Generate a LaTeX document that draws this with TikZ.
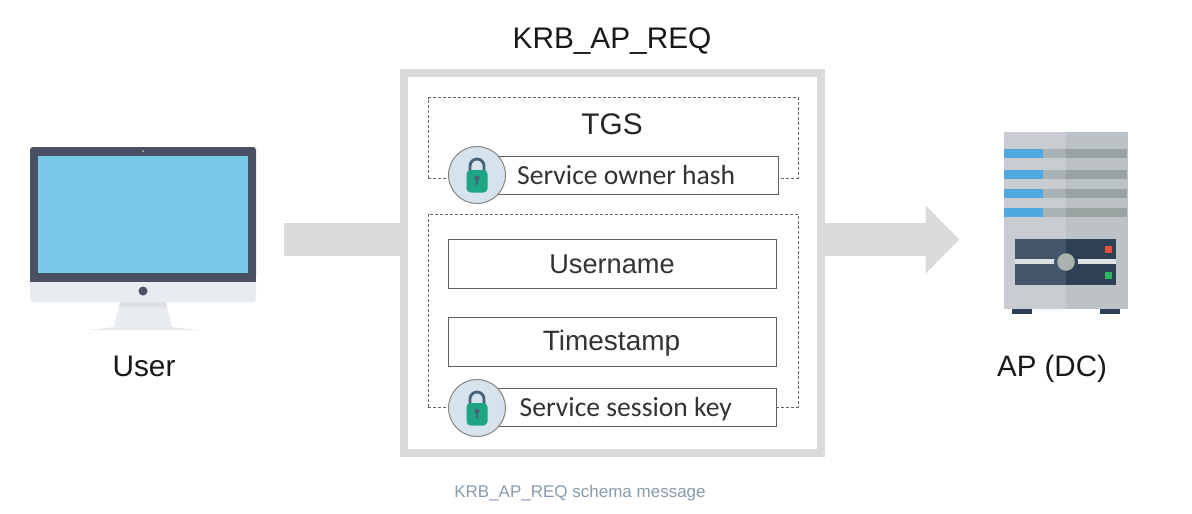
\documentclass[tikz,border=0pt]{standalone}
\usepackage{fontspec}
\setmainfont{Liberation Sans}
\newfontfamily\boxfont{Carlito}
\usetikzlibrary{arrows.meta}
\definecolor{framegray}{HTML}{DADADA}
\definecolor{bezel}{HTML}{4A5162}
\definecolor{screenblue}{HTML}{78C8EA}
\definecolor{silver}{HTML}{E8EBEF}
\definecolor{srvleft}{HTML}{C8CCD0}
\definecolor{srvright}{HTML}{BDC2C6}
\definecolor{panelleft}{HTML}{435568}
\definecolor{panelright}{HTML}{2E4053}
\definecolor{stripeblue}{HTML}{4FA9E0}
\definecolor{stripeleft}{HTML}{A9B2B2}
\definecolor{striperight}{HTML}{98A3A2}
\definecolor{slitgray}{HTML}{DDE1E3}
\definecolor{knobgray}{HTML}{ABB3B1}
\definecolor{ledred}{HTML}{E8503E}
\definecolor{ledgreen}{HTML}{2DB55D}
\definecolor{lockbg}{HTML}{D6E3EC}
\definecolor{lockgreen}{HTML}{20A584}
\definecolor{lockhasp}{HTML}{4A6278}
\definecolor{captext}{HTML}{8A9BAD}
\newcommand{\padlock}[1]{
    \draw [lockhasp,line width=2.8] ([shift={(-7,-3)}]#1) -- ++(0,-6) arc (180:360:7) -- ++(0,6);
    \fill [lockgreen,rounded corners=4] ([shift={(-10.5,-5)}]#1) rectangle ([shift={(10.5,17.5)}]#1);
    \fill [lockhasp] ([shift={(0,3)}]#1) circle (2.5);
    \fill [lockhasp] ([shift={(-1.1,3)}]#1) rectangle ([shift={(1.1,9.5)}]#1);
}
\begin{document}
\begin{tikzpicture}[x=1pt,y=-1pt,
    heading/.style={font=\fontsize{29.8}{32}\selectfont,text=black!90,inner sep=0pt},
    field/.style={draw=black!62,line width=0.9,fill=white,minimum height=38,inner sep=0pt},
    fieldtext/.style={font=\boxfont\fontsize{27.6}{30}\selectfont,text=black!80,inner sep=0pt,anchor=west},
    plainfield/.style={field,minimum width=328,minimum height=49},
    plaintext/.style={font=\fontsize{27.2}{30}\selectfont,text=black!80,inner sep=0pt},
    dashbox/.style={draw=black!60,line width=0.7,densely dashed},
    lockdisc/.style={circle,draw=black!48,line width=1,fill=lockbg,minimum size=57,inner sep=0pt},
    flow/.style={framegray,line width=33.5} ]
    \useasboundingbox (0,0) rectangle (1192,514);
    \fill [white] (0,0) rectangle (1192,514);
    \node (msgframe) [draw=framegray,line width=7.6,minimum width=417.5,minimum height=380.5,inner sep=0pt] at (612.5,263) {};
    \coordinate (userout) at (284,239.5);
    \coordinate (aptip) at (959.5,239.5);
    \draw [flow] (userout) -- (msgframe.west |- userout);
    \draw [flow,-{Triangle[length=34,width=66]}] (msgframe.east |- aptip) -- (aptip);
    \node (title) [heading] at (612,41.5) {KRB\_AP\_REQ};
    \coordinate (tgsleft) at (428,178);
    \coordinate (tgsright) at (798,178);
    \coordinate (authleft) at (428,407);
    \coordinate (authright) at (798,407);
    \draw [dashbox] (tgsleft) |- (798,97.5) -- (tgsright) -- (778,178);
    \draw [dashbox] (tgsleft) -- (450,178);
    \draw [dashbox] (authleft) |- (798,214) -- (authright) -- (776,407);
    \draw [dashbox] (authleft) -- (450,407);
    \node (tgs) [heading,text=black!85] at (612,124.5) {TGS};
    \node (ownerbox) [field,minimum width=301,anchor=west] at (477,175) {};
    \node (owner) [fieldtext] at (517,175.5) {Service owner hash};
    \node (usernamebox) [plainfield] at (612,263.5) {};
    \node (username) [plaintext] at (612,264.5) {Username};
    \node (timestampbox) [plainfield] at (612,341.5) {};
    \node (timestamp) [plaintext,font=\fontsize{28}{30}\selectfont] at (611.5,343.5) {Timestamp};
    \node (sessionbox) [field,minimum width=299,anchor=west] at (477,407.5) {};
    \node (session) [fieldtext] at (519.5,409.5) {Service session key};
    \node (ownerlock) [lockdisc] at (477,175) {};
    \padlock{ownerlock.center}
    \node (sessionlock) [lockdisc] at (477,408) {};
    \padlock{sessionlock.center}
    \node (caption) [font=\fontsize{17}{20}\selectfont,text=captext,inner sep=0pt] at (580,493.5) {KRB\_AP\_REQ schema message};
    \fill [silver,rounded corners=3] (30,275) rectangle (256,302);
    \fill [bezel,rounded corners=3] (30,147) rectangle (256,278);
    \fill [bezel] (30,270) rectangle (256,282);
    \fill [screenblue] (38,155.5) rectangle (248,273);
    \fill [silver!60!gray] (143,151) circle (1);
    \fill [bezel] (143,291) circle (4.5);
    \fill [silver] (120,302) -- (166,302) -- (172,327) .. controls (180,328) and (192,329) .. (200,330) -- (88,330) .. controls (96,329) and (106,328) .. (114,327) -- cycle;
    \fill [black!12] (120,302) -- (166,302) -- (167,307) -- (119,307) -- cycle;
    \node (user) [heading] at (144,366) {User};
    \fill [panelright] (1012,309) rectangle (1031.5,314);
    \fill [panelright] (1100,309) rectangle (1119.5,314);
    \fill [srvleft] (1004,132) rectangle (1066,309);
    \fill [srvright] (1066,132) rectangle (1128,309);
    \foreach \ytop in {149,169.5,189,208} {
        \fill [stripeblue] (1004,\ytop) rectangle (1043,\ytop+9);
        \fill [stripeleft] (1043,\ytop) rectangle (1066,\ytop+9);
        \fill [striperight] (1066,\ytop) rectangle (1127,\ytop+9);
    }
    \foreach \ytop in {238.7,264.3} {
        \fill [panelleft] (1015,\ytop) rectangle (1066,\ytop+20.7);
        \fill [panelright] (1066,\ytop) rectangle (1116,\ytop+20.7);
    }
    \fill [slitgray] (1015,259.4) rectangle (1054,264.3);
    \fill [slitgray] (1078,259.4) rectangle (1116,264.3);
    \fill [panelleft] (1066,262) ++(90:12) arc (90:270:12) -- cycle;
    \fill [panelright] (1066,262) ++(90:12) arc (90:-90:12) -- cycle;
    \fill [knobgray] (1066,262) circle (8.8);
    \fill [ledred] (1104.5,245.5) rectangle (1111.5,252.5);
    \fill [ledgreen] (1104.5,271.5) rectangle (1111.5,278.5);
    \node (ap) [heading,font=\fontsize{29.5}{32}\selectfont] at (1052,369) {AP (DC)};
    \end{tikzpicture}
\end{document}
